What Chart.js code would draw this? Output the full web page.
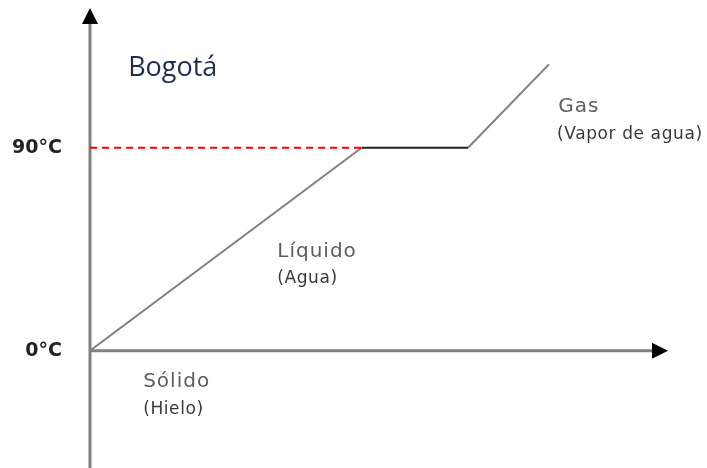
<!DOCTYPE html>
<html>
<head>
<meta charset="utf-8">
<script src="https://cdn.jsdelivr.net/npm/chart.js@4"></script>
<style>
  html, body { margin: 0; padding: 0; background: #fff; }
  #wrap { width: 707px; height: 468px; }
</style>
</head>
<body>
<div id="wrap"><canvas id="myChart"></canvas></div>
<script>
// Curva de calentamiento del agua en Bogotá
var tiempo = [0, 47, 65.4, 79.4];
var temperatura = [0, 90, 90, 127];

// Línea roja punteada hasta 90°C
var guiaX = [0, 47];
var guiaY = [90, 90];

// Marcas del eje Y
var marcasY = [0, 90];

// Textos de la figura
var textos = ["Bogotá", "Sólido", "(Hielo)", "Líquido", "(Agua)", "Gas", "(Vapor de agua)"];
var textosX = [6.6, 9.2, 9.2, 32.4, 32.4, 81, 80.8];
var textosY = [122, -16, -28, 41.7, 30.1, 106, 94];

var puntos = tiempo.map(function(t, i) { return { x: t, y: temperatura[i] }; });
var guia = guiaX.map(function(t, i) { return { x: t, y: guiaY[i] }; });

// Ejes con flechas y textos
var ejesPlugin = {
    id: "ejes",
    beforeDatasetsDraw: function(chart) {
        var ctx = chart.ctx;
        var sx = chart.scales.x, sy = chart.scales.y;
        var x0 = sx.getPixelForValue(0), y0 = sy.getPixelForValue(0);
        var area = chart.chartArea;
        ctx.save();
        ctx.strokeStyle = "#808080";
        ctx.lineWidth = 3;
        ctx.beginPath();
        ctx.moveTo(x0, area.bottom);
        ctx.lineTo(x0, area.top + 12);
        ctx.moveTo(x0, y0);
        ctx.lineTo(area.right - 12, y0);
        ctx.stroke();
        ctx.fillStyle = "#000";
        ctx.beginPath();
        ctx.moveTo(x0, area.top);
        ctx.lineTo(x0 - 8, area.top + 16);
        ctx.lineTo(x0 + 8, area.top + 16);
        ctx.closePath();
        ctx.fill();
        ctx.beginPath();
        ctx.moveTo(area.right, y0);
        ctx.lineTo(area.right - 16, y0 - 8);
        ctx.lineTo(area.right - 16, y0 + 8);
        ctx.closePath();
        ctx.fill();
        ctx.restore();
    },
    afterDraw: function(chart) {
        var ctx = chart.ctx;
        var sx = chart.scales.x, sy = chart.scales.y;
        ctx.save();
        ctx.textAlign = "left";
        ctx.textBaseline = "alphabetic";
        textos.forEach(function(t, i) {
            if (i === 0) {
                ctx.font = "27px 'Open Sans'";
                ctx.fillStyle = "#1f2d4d";
                ctx.letterSpacing = "0px";
            } else if (t.charAt(0) === "(") {
                ctx.font = "17px 'DejaVu Sans'";
                ctx.fillStyle = "#3a3a3a";
                ctx.letterSpacing = "0.6px";
            } else {
                ctx.font = "20px 'DejaVu Sans'";
                ctx.fillStyle = "#5e5e5e";
                ctx.letterSpacing = "1px";
            }
            ctx.fillText(t, sx.getPixelForValue(textosX[i]), sy.getPixelForValue(textosY[i]));
        });
        ctx.restore();
    }
};

var ctx = document.getElementById("myChart").getContext("2d");
var myChart = new Chart(ctx, {
    type: "line",
    data: {
        datasets: [
            {
                data: guia,
                borderColor: "#ff0000",
                borderWidth: 2,
                borderDash: [7, 5],
                pointRadius: 0
            },
            {
                data: puntos,
                borderColor: "#808080",
                borderWidth: 2,
                pointRadius: 0,
                segment: {
                    borderColor: function(c) {
                        return c.p0.parsed.y === c.p1.parsed.y ? "#222" : "#808080";
                    }
                }
            }
        ]
    },
    options: {
        responsive: true,
        maintainAspectRatio: false,
        animation: false,
        layout: { padding: { top: 8, right: 39, bottom: 0, left: 0 } },
        plugins: { legend: { display: false }, tooltip: { enabled: false } },
        scales: {
            x: {
                type: "linear",
                min: 0,
                max: 100,
                display: false
            },
            y: {
                type: "linear",
                min: -52,
                max: 152,
                grid: { display: false, drawTicks: false },
                border: { display: false },
                afterBuildTicks: function(scale) {
                    scale.ticks = marcasY.map(function(v) { return { value: v }; });
                },
                afterFit: function(scale) {
                    scale.width = 90;
                    scale.paddingTop = 0;
                    scale.paddingBottom = 0;
                },
                ticks: {
                    padding: 28,
                    color: "#222",
                    font: { family: "'DejaVu Sans'", size: 19, weight: "bold" },
                    callback: function(v) { return v + "°C"; }
                }
            }
        }
    },
    plugins: [ejesPlugin]
});
</script>
</body>
</html>
